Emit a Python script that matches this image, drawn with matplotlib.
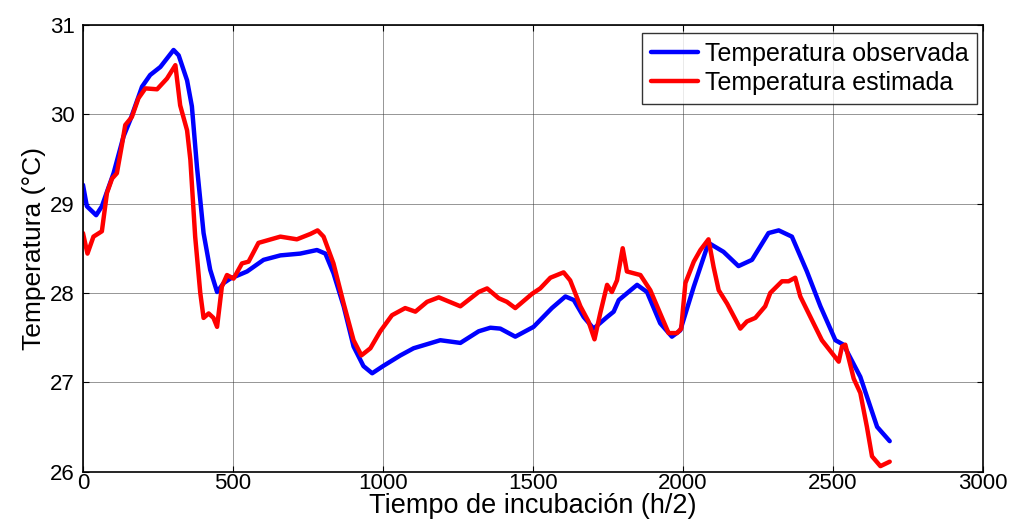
import matplotlib
matplotlib.use("Agg")
import matplotlib.pyplot as plt

# Temperatura observada (azul)
t_obs = [0, 13, 44, 63, 102, 135, 158, 197, 224, 258, 302, 319, 347, 363, 380, 402, 424,
         447, 469, 491, 547, 602, 658, 724, 780, 808, 835, 869, 902, 935, 964, 1000, 1058,
         1102, 1191, 1258, 1319, 1358, 1391, 1441, 1502, 1563, 1608, 1636, 1669, 1702,
         1747, 1769, 1786, 1847, 1880, 1924, 1963, 1991, 2036, 2085, 2135, 2185, 2230,
         2285, 2319, 2363, 2413, 2458, 2508, 2535, 2591, 2647, 2689]
y_obs = [29.21, 28.97, 28.87, 28.97, 29.34, 29.75, 29.94, 30.31, 30.44, 30.53, 30.72, 30.66,
         30.38, 30.09, 29.41, 28.67, 28.26, 28.01, 28.11, 28.16, 28.24, 28.37, 28.42, 28.44,
         28.48, 28.44, 28.22, 27.85, 27.40, 27.18, 27.10, 27.18, 27.30, 27.38, 27.47, 27.44,
         27.57, 27.61, 27.60, 27.51, 27.62, 27.83, 27.96, 27.92, 27.73, 27.60, 27.73, 27.79,
         27.92, 28.09, 28.01, 27.66, 27.51, 27.58, 28.07, 28.56, 28.46, 28.30, 28.37, 28.67,
         28.70, 28.63, 28.24, 27.85, 27.47, 27.42, 27.06, 26.50, 26.34]

# Temperatura estimada (rojo)
t_est = [0, 15, 35, 63, 80, 97, 113, 130, 141, 163, 185, 208, 247, 280, 308, 324, 347, 358,
         374, 391, 402, 419, 435, 447, 463, 480, 502, 530, 552, 585, 658, 713, 758, 782,
         802, 835, 869, 902, 928, 958, 991, 1030, 1074, 1108, 1147, 1186, 1258, 1319, 1347,
         1386, 1413, 1441, 1497, 1524, 1558, 1602, 1624, 1658, 1685, 1705, 1724, 1747, 1763,
         1780, 1799, 1813, 1858, 1891, 1924, 1952, 1980, 1994, 2008, 2036, 2058, 2085, 2102,
         2119, 2147, 2191, 2213, 2241, 2274, 2291, 2330, 2352, 2374, 2391, 2435, 2463, 2519,
         2530, 2541, 2569, 2591, 2613, 2630, 2658, 2689]
y_est = [28.67, 28.44, 28.63, 28.69, 29.12, 29.28, 29.34, 29.66, 29.88, 29.97, 30.18, 30.29,
         30.28, 30.40, 30.55, 30.10, 29.82, 29.49, 28.63, 28.00, 27.72, 27.77, 27.72, 27.62,
         28.07, 28.20, 28.16, 28.33, 28.35, 28.56, 28.63, 28.60, 28.66, 28.70, 28.63, 28.33,
         27.88, 27.47, 27.30, 27.38, 27.57, 27.75, 27.83, 27.79, 27.90, 27.95, 27.85, 28.01,
         28.05, 27.94, 27.90, 27.83, 27.99, 28.05, 28.17, 28.23, 28.14, 27.85, 27.68, 27.48,
         27.77, 28.09, 28.01, 28.14, 28.50, 28.24, 28.20, 28.03, 27.77, 27.55, 27.55, 27.60,
         28.11, 28.35, 28.48, 28.60, 28.29, 28.03, 27.88, 27.60, 27.68, 27.72, 27.85, 28.00,
         28.13, 28.13, 28.17, 27.96, 27.66, 27.47, 27.23, 27.40, 27.42, 27.04, 26.88, 26.50,
         26.17, 26.06, 26.11]

xticks = [0, 500, 1000, 1500, 2000, 2500, 3000]
yticks = [26, 27, 28, 29, 30, 31]

plt.rcParams["font.family"] = ["Liberation Sans", "DejaVu Sans"]

fig = plt.figure(figsize=(10.13, 5.27), dpi=100)
ax = fig.add_axes([0.0819, 0.1053, 0.8885, 0.8473])

ax.plot(t_obs, y_obs, color="#0000FF", lw=3.2, label="Temperatura observada",
        solid_capstyle="round", solid_joinstyle="round")
ax.plot(t_est, y_est, color="#FF0000", lw=3.2, label="Temperatura estimada",
        solid_capstyle="round", solid_joinstyle="round")

ax.set_xlim(0, 3000)
ax.set_ylim(26, 31)
ax.set_xticks(xticks)
ax.set_yticks(yticks)
ax.grid(True, color="#333333", lw=0.6, alpha=0.6)
ax.tick_params(direction="in", length=4, labelsize=16, top=True, right=True,
               labeltop=False, labelright=False)
ax.tick_params(axis="x", pad=1)
ax.tick_params(axis="y", pad=6)
for s in ax.spines.values():
    s.set_linewidth(1.2)

ax.set_xlabel("Tiempo de incubación (h/2)", fontsize=19.5, labelpad=-1)
ax.set_ylabel("Temperatura (°C)", fontsize=19, labelpad=3)

leg = ax.legend(loc="upper right", bbox_to_anchor=(0.9935, 0.982), fontsize=18,
                frameon=True, fancybox=False, handlelength=1.9, handletextpad=0.25,
                borderpad=0.35, labelspacing=0.2, borderaxespad=0.0)
leg.get_frame().set_edgecolor("black")
leg.get_frame().set_linewidth(1.0)

fig.savefig("out.png", dpi=100)
